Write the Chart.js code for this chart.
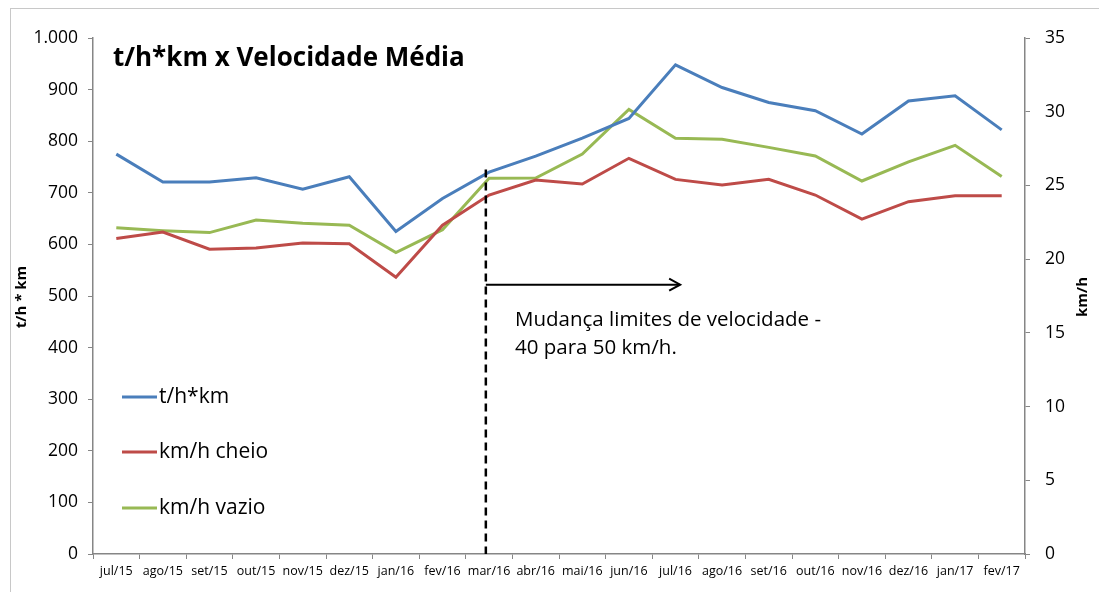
<!DOCTYPE html>
<html>
<head>
<meta charset="utf-8">
<script src="https://cdn.jsdelivr.net/npm/chart.js@4.4.1/dist/chart.umd.min.js"></script>
<style>
  html, body { margin: 0; padding: 0; background: #fff; }
  #wrap { position: relative; width: 1099px; height: 592px; }
  #frame { position: absolute; left: 10px; top: 8px; width: 1100px; height: 600px; border: 1px solid #c8c8c8; box-sizing: border-box; pointer-events: none; }
  canvas { position: absolute; left: 0; top: 0; }
</style>
</head>
<body>
<div id="wrap">
  <canvas id="c" width="1099" height="592"></canvas>
  <div id="frame"></div>
</div>
<script>
const categories = ['jul/15','ago/15','set/15','out/15','nov/15','dez/15','jan/16','fev/16','mar/16','abr/16','mai/16','jun/16','jul/16','ago/16','set/16','out/16','nov/16','dez/16','jan/17','fev/17'];
const thkm   = [775, 721, 721, 729, 707, 731, 625, 689, 740, 771, 806, 844, 948, 904, 875, 859, 814, 878, 888, 822];
const cheio  = [21.4, 21.84, 20.67, 20.76, 21.1, 21.05, 18.77, 22.3, 24.35, 25.37, 25.1, 26.84, 25.41, 25.03, 25.41, 24.35, 22.72, 23.9, 24.3, 24.3];
const vazio  = [22.13, 21.93, 21.8, 22.65, 22.43, 22.3, 20.44, 22.0, 25.48, 25.5, 27.13, 30.16, 28.2, 28.13, 27.58, 27.0, 25.3, 26.6, 27.72, 25.6];
const leftTicks = [0, 100, 200, 300, 400, 500, 600, 700, 800, 900, 1000];
const rightTicks = [0, 5, 10, 15, 20, 25, 30, 35];
const seriesNames = ['t/h*km', 'km/h cheio', 'km/h vazio'];
const titleText = 't/h*km x Velocidade Média';
const noteLines = ['Mudança limites de velocidade -', '40 para 50 km/h.'];

const FONT = "'Open Sans', 'Liberation Sans', sans-serif";
const axisColor = '#868686';

function fmt(v) { return v >= 1000 ? v.toLocaleString('de-DE') : String(v); }

const overlay = {
  id: 'overlay',
  afterDatasetsDraw(chart) {
    const ctx = chart.ctx;
    const x = chart.scales.x, y = chart.scales.y;
    ctx.save();
    // title
    ctx.fillStyle = '#000';
    ctx.font = "bold 26px " + FONT;
    ctx.textBaseline = 'alphabetic';
    ctx.textAlign = 'left';
    ctx.fillText(titleText, 113, 66);
    // dashed vertical line
    const xd = x.getPixelForValue(7.93);
    ctx.strokeStyle = '#000';
    ctx.lineWidth = 2.5;
    ctx.setLineDash([8, 5]);
    ctx.beginPath();
    ctx.moveTo(xd, y.getPixelForValue(745));
    ctx.lineTo(xd, y.getPixelForValue(0));
    ctx.stroke();
    ctx.setLineDash([]);
    // arrow
    const ya = y.getPixelForValue(522);
    const xe = x.getPixelForValue(12.1);
    ctx.lineWidth = 2;
    ctx.beginPath();
    ctx.moveTo(xd, ya); ctx.lineTo(xe, ya); ctx.stroke();
    ctx.beginPath();
    ctx.moveTo(xe - 11, ya - 6); ctx.lineTo(xe, ya); ctx.lineTo(xe - 11, ya + 6); ctx.stroke();
    // note text
    ctx.font = "20.5px " + FONT;
    ctx.textBaseline = 'middle';
    ctx.fillText(noteLines[0], 515, 320);
    ctx.fillText(noteLines[1], 515, 348);
    // legend
    const ly = [397, 452, 508];
    chart.data.datasets.forEach((ds, i) => {
      ctx.strokeStyle = ds.borderColor;
      ctx.lineWidth = 3;
      ctx.beginPath();
      ctx.moveTo(122, ly[i]); ctx.lineTo(157, ly[i]); ctx.stroke();
      ctx.fillStyle = '#000';
      ctx.font = "21px " + FONT;
      ctx.fillText(ds.label, 159, ly[i]);
    });
    // axis titles
    ctx.font = "bold 15px " + FONT;
    ctx.textAlign = 'center';
    ctx.save();
    ctx.translate(22, 297);
    ctx.rotate(-Math.PI / 2);
    ctx.fillText('t/h * km', 0, 0);
    ctx.restore();
    ctx.save();
    ctx.translate(1083, 297);
    ctx.rotate(-Math.PI / 2);
    ctx.fillText('km/h', 0, 0);
    ctx.restore();
    ctx.restore();
  }
};

new Chart(document.getElementById('c'), {
  type: 'line',
  data: {
    labels: categories,
    datasets: [
      { label: seriesNames[0], data: thkm, yAxisID: 'y', borderColor: '#4a7ebb', borderWidth: 3, pointRadius: 0, tension: 0, fill: false },
      { label: seriesNames[1], data: cheio, yAxisID: 'y1', borderColor: '#be4b48', borderWidth: 3, pointRadius: 0, tension: 0, fill: false },
      { label: seriesNames[2], data: vazio, yAxisID: 'y1', borderColor: '#98b954', borderWidth: 3, pointRadius: 0, tension: 0, fill: false }
    ]
  },
  options: {
    responsive: false,
    animation: false,
    events: [],
    layout: { padding: { left: 0, right: 0, top: 38, bottom: 0 } },
    plugins: { legend: { display: false }, tooltip: { enabled: false }, title: { display: false } },
    scales: {
      x: {
        type: 'category',
        offset: true,
        grid: { display: true, offset: true, drawOnChartArea: false, drawTicks: true, tickLength: 5, color: axisColor },
        border: { display: true, color: axisColor, width: 1.5 },
        ticks: { color: '#000', font: { family: FONT, size: 12.5 }, maxRotation: 0, autoSkip: false, padding: 5 },
        afterFit(s) { s.height = 38; }
      },
      y: {
        position: 'left',
        min: 0, max: 1000,
        afterBuildTicks(s) { s.ticks = leftTicks.map(v => ({ value: v })); },
        grid: { display: true, drawOnChartArea: false, drawTicks: true, tickLength: 5, color: axisColor },
        border: { display: true, color: axisColor, width: 1.5 },
        ticks: { color: '#000', font: { family: FONT, size: 17.5 }, padding: 10, callback: v => fmt(v) },
        afterFit(s) { s.width = 93; }
      },
      y1: {
        position: 'right',
        min: 0, max: 35,
        afterBuildTicks(s) { s.ticks = rightTicks.map(v => ({ value: v })); },
        grid: { display: true, drawOnChartArea: false, drawTicks: true, tickLength: 5, color: axisColor },
        border: { display: true, color: axisColor, width: 1.5 },
        ticks: { color: '#000', font: { family: FONT, size: 17.5 }, padding: 15 },
        afterFit(s) { s.width = 74; }
      }
    }
  },
  plugins: [overlay]
});
</script>
</body>
</html>
